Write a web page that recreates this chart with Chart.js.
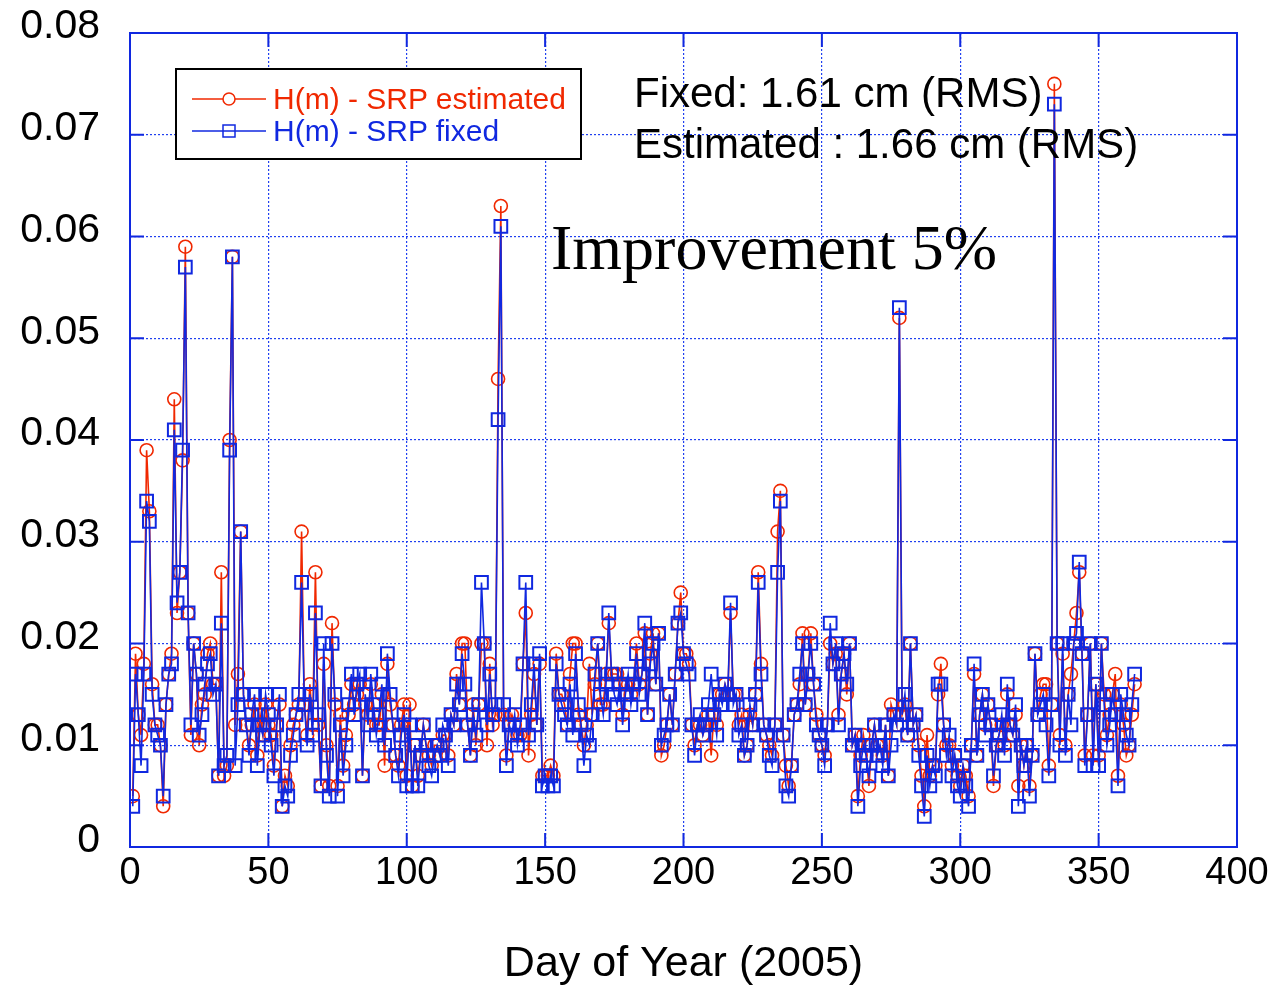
<!DOCTYPE html>
<html>
<head>
<meta charset="utf-8">
<title>H(m) - SRP</title>
<script src="https://cdn.jsdelivr.net/npm/chart.js@4.4.1/dist/chart.umd.min.js"></script>
<style>
  html, body { margin: 0; padding: 0; background: #fff; }
  #wrap { position: relative; width: 1287px; height: 990px; overflow: hidden; }
  #chart { position: absolute; left: 0; top: 0; }
  .txt { position: absolute; white-space: nowrap; line-height: 1; font-family: "Liberation Sans", Arial, sans-serif; }
  .leg { font-size: 30px; left: 273px; }
  .note { font-size: 42px; color: #000; left: 634px; }
  .big { font-family: "Liberation Serif", "Times New Roman", serif; font-size: 64px; color: #000; left: 551px; top: 216px; }
</style>
</head>
<body>
<div id="wrap">
  <canvas id="chart" width="1287" height="990"></canvas>
  <div class="txt leg" style="top:84px;color:#f02800">H(m) - SRP estimated</div>
  <div class="txt leg" style="top:116px;color:#1028e0">H(m) - SRP fixed</div>
  <div class="txt note" style="top:72px">Fixed: 1.61 cm (RMS)</div>
  <div class="txt note" style="top:123px">Estimated : 1.66 cm (RMS)</div>
  <div class="txt big">Improvement 5%</div>
</div>
<script>
// day of year of the first value
const firstDay = 1;

// H(m) with SRP fixed, one value per day (m)
const fixedVals = [
  0.004, 0.017, 0.013, 0.008, 0.017, 0.034, 0.032, 0.015, 0.012, 0.011,
  0.010, 0.005, 0.014, 0.017, 0.018, 0.041, 0.024, 0.027, 0.039, 0.057,
  0.023, 0.012, 0.020, 0.017, 0.011, 0.013, 0.016, 0.018, 0.019, 0.015,
  0.016, 0.007, 0.022, 0.008, 0.009, 0.039, 0.058, 0.008, 0.014, 0.031,
  0.015, 0.012, 0.009, 0.013, 0.015, 0.008, 0.012, 0.011, 0.015, 0.013,
  0.010, 0.007, 0.012, 0.015, 0.004, 0.006, 0.005, 0.009, 0.011, 0.013,
  0.015, 0.026, 0.014, 0.010, 0.015, 0.011, 0.023, 0.013, 0.006, 0.020,
  0.009, 0.005, 0.020, 0.015, 0.005, 0.012, 0.007, 0.010, 0.014, 0.017,
  0.013, 0.016, 0.017, 0.007, 0.015, 0.012, 0.017, 0.014, 0.011, 0.013,
  0.016, 0.010, 0.019, 0.015, 0.012, 0.009, 0.007, 0.011, 0.013, 0.006,
  0.012, 0.006, 0.010, 0.006, 0.009, 0.012, 0.010, 0.008, 0.007, 0.009,
  0.010, 0.009, 0.012, 0.011, 0.008, 0.013, 0.012, 0.016, 0.014, 0.019,
  0.016, 0.012, 0.009, 0.013, 0.011, 0.014, 0.026, 0.020, 0.012, 0.017,
  0.013, 0.014, 0.042, 0.061, 0.014, 0.008, 0.012, 0.011, 0.013, 0.010,
  0.012, 0.018, 0.026, 0.011, 0.014, 0.018, 0.012, 0.019, 0.006, 0.007,
  0.006, 0.007, 0.006, 0.018, 0.015, 0.014, 0.013, 0.012, 0.016, 0.011,
  0.019, 0.014, 0.012, 0.008, 0.011, 0.010, 0.013, 0.017, 0.020, 0.015,
  0.013, 0.016, 0.023, 0.017, 0.015, 0.014, 0.016, 0.012, 0.015, 0.017,
  0.014, 0.016, 0.019, 0.015, 0.017, 0.022, 0.013, 0.018, 0.020, 0.016,
  0.021, 0.010, 0.011, 0.012, 0.015, 0.012, 0.017, 0.022, 0.023, 0.019,
  0.018, 0.017, 0.012, 0.009, 0.012, 0.013, 0.011, 0.012, 0.014, 0.017,
  0.013, 0.011, 0.015, 0.014, 0.016, 0.015, 0.024, 0.014, 0.015, 0.011,
  0.012, 0.009, 0.010, 0.014, 0.012, 0.015, 0.026, 0.017, 0.012, 0.011,
  0.009, 0.008, 0.012, 0.027, 0.034, 0.011, 0.006, 0.005, 0.008, 0.013,
  0.014, 0.017, 0.020, 0.014, 0.017, 0.020, 0.016, 0.012, 0.011, 0.010,
  0.008, 0.012, 0.022, 0.018, 0.020, 0.012, 0.017, 0.019, 0.016, 0.020,
  0.010, 0.011, 0.004, 0.008, 0.010, 0.009, 0.007, 0.010, 0.012, 0.009,
  0.010, 0.008, 0.012, 0.007, 0.010, 0.013, 0.012, 0.053, 0.013, 0.015,
  0.011, 0.020, 0.012, 0.013, 0.009, 0.006, 0.003, 0.009, 0.006, 0.008,
  0.007, 0.016, 0.016, 0.012, 0.009, 0.011, 0.007, 0.009, 0.006, 0.005,
  0.008, 0.006, 0.004, 0.010, 0.018, 0.009, 0.013, 0.015, 0.011, 0.014,
  0.012, 0.007, 0.010, 0.011, 0.013, 0.009, 0.016, 0.012, 0.011, 0.014,
  0.004, 0.010, 0.008, 0.010, 0.005, 0.009, 0.019, 0.013, 0.014, 0.015,
  0.012, 0.007, 0.014, 0.073, 0.020, 0.010, 0.020, 0.009, 0.015, 0.012,
  0.020, 0.021, 0.028, 0.019, 0.008, 0.013, 0.020, 0.008, 0.016, 0.008,
  0.020, 0.014, 0.010, 0.012, 0.015, 0.013, 0.006, 0.015, 0.013, 0.011,
  0.010, 0.014, 0.017
];

// H(m) with SRP estimated (m)
const estVals = [
  0.005, 0.019, 0.013, 0.011, 0.018, 0.039, 0.033, 0.016, 0.012, 0.012,
  0.010, 0.004, 0.014, 0.017, 0.019, 0.044, 0.023, 0.027, 0.038, 0.059,
  0.023, 0.011, 0.020, 0.017, 0.010, 0.014, 0.015, 0.019, 0.020, 0.016,
  0.016, 0.007, 0.027, 0.007, 0.008, 0.040, 0.058, 0.012, 0.017, 0.031,
  0.015, 0.012, 0.010, 0.012, 0.014, 0.009, 0.013, 0.011, 0.014, 0.012,
  0.011, 0.008, 0.012, 0.014, 0.004, 0.007, 0.006, 0.010, 0.012, 0.013,
  0.014, 0.031, 0.014, 0.011, 0.016, 0.012, 0.027, 0.012, 0.006, 0.018,
  0.010, 0.006, 0.022, 0.014, 0.006, 0.013, 0.008, 0.011, 0.013, 0.016,
  0.014, 0.015, 0.016, 0.007, 0.014, 0.013, 0.016, 0.013, 0.012, 0.012,
  0.015, 0.008, 0.018, 0.014, 0.012, 0.009, 0.008, 0.012, 0.014, 0.007,
  0.014, 0.006, 0.010, 0.007, 0.009, 0.012, 0.010, 0.009, 0.008, 0.010,
  0.010, 0.009, 0.011, 0.011, 0.009, 0.013, 0.012, 0.017, 0.014, 0.020,
  0.020, 0.012, 0.009, 0.014, 0.010, 0.014, 0.020, 0.020, 0.010, 0.018,
  0.012, 0.013, 0.046, 0.063, 0.013, 0.009, 0.012, 0.013, 0.012, 0.011,
  0.011, 0.018, 0.023, 0.009, 0.013, 0.017, 0.012, 0.018, 0.007, 0.007,
  0.007, 0.008, 0.007, 0.019, 0.015, 0.015, 0.014, 0.012, 0.017, 0.020,
  0.020, 0.013, 0.012, 0.010, 0.012, 0.018, 0.013, 0.016, 0.020, 0.014,
  0.014, 0.017, 0.022, 0.017, 0.017, 0.017, 0.016, 0.013, 0.016, 0.016,
  0.015, 0.016, 0.020, 0.016, 0.017, 0.021, 0.013, 0.019, 0.021, 0.016,
  0.021, 0.009, 0.010, 0.012, 0.015, 0.012, 0.017, 0.022, 0.025, 0.019,
  0.019, 0.018, 0.012, 0.010, 0.012, 0.012, 0.011, 0.012, 0.013, 0.009,
  0.013, 0.012, 0.015, 0.015, 0.016, 0.015, 0.023, 0.015, 0.015, 0.012,
  0.013, 0.009, 0.010, 0.013, 0.012, 0.015, 0.027, 0.018, 0.012, 0.011,
  0.010, 0.009, 0.012, 0.031, 0.035, 0.011, 0.008, 0.006, 0.008, 0.013,
  0.014, 0.016, 0.021, 0.014, 0.017, 0.021, 0.016, 0.013, 0.011, 0.010,
  0.009, 0.012, 0.020, 0.018, 0.019, 0.013, 0.017, 0.019, 0.015, 0.020,
  0.010, 0.011, 0.005, 0.009, 0.011, 0.009, 0.006, 0.010, 0.012, 0.010,
  0.010, 0.009, 0.012, 0.007, 0.014, 0.013, 0.012, 0.052, 0.013, 0.014,
  0.011, 0.020, 0.012, 0.013, 0.010, 0.007, 0.004, 0.011, 0.007, 0.008,
  0.008, 0.015, 0.018, 0.012, 0.010, 0.010, 0.008, 0.009, 0.007, 0.006,
  0.008, 0.007, 0.005, 0.010, 0.017, 0.009, 0.013, 0.015, 0.012, 0.014,
  0.012, 0.006, 0.010, 0.011, 0.012, 0.010, 0.015, 0.012, 0.011, 0.013,
  0.006, 0.010, 0.008, 0.010, 0.006, 0.009, 0.019, 0.013, 0.015, 0.016,
  0.016, 0.008, 0.014, 0.075, 0.020, 0.011, 0.019, 0.010, 0.015, 0.017,
  0.020, 0.023, 0.027, 0.019, 0.009, 0.013, 0.020, 0.009, 0.016, 0.009,
  0.020, 0.015, 0.011, 0.013, 0.015, 0.017, 0.007, 0.014, 0.012, 0.009,
  0.010, 0.013, 0.016
];

const xTicksStep = 50;
const yTicksStep = 0.01;

const red = '#f02800';
const blue = '#1028e0';
const gridBlue = '#2040f0';
const fontFam = '"Liberation Sans", Arial, sans-serif';

function toPoints(vals) {
  return vals.map((v, i) => ({ x: firstDay + i, y: v }));
}

// box round the plot, inward ticks and the legend box
const framePlugin = {
  id: 'frame',
  afterDatasetsDraw(chart) {
    const { ctx, chartArea: a, scales: { x, y } } = chart;
    ctx.save();
    ctx.strokeStyle = blue;
    ctx.lineWidth = 2;
    ctx.strokeRect(a.left, a.top, a.right - a.left, a.bottom - a.top);
    ctx.beginPath();
    x.ticks.forEach(t => {
      const px = x.getPixelForValue(t.value);
      ctx.moveTo(px, a.bottom); ctx.lineTo(px, a.bottom - 14);
      ctx.moveTo(px, a.top); ctx.lineTo(px, a.top + 14);
    });
    y.ticks.forEach(t => {
      const py = y.getPixelForValue(t.value);
      ctx.moveTo(a.left, py); ctx.lineTo(a.left + 14, py);
      ctx.moveTo(a.right, py); ctx.lineTo(a.right - 14, py);
    });
    ctx.stroke();

    // legend
    ctx.fillStyle = '#fff';
    ctx.fillRect(176, 69, 405, 90);
    ctx.strokeStyle = '#000';
    ctx.lineWidth = 2;
    ctx.strokeRect(176, 69, 405, 90);

    ctx.lineWidth = 1.5;
    ctx.strokeStyle = red;
    ctx.beginPath();
    ctx.moveTo(192, 99); ctx.lineTo(266, 99);
    ctx.stroke();
    ctx.fillStyle = '#fff';
    ctx.beginPath();
    ctx.arc(229, 99, 6, 0, Math.PI * 2);
    ctx.fill();
    ctx.stroke();

    ctx.strokeStyle = blue;
    ctx.beginPath();
    ctx.moveTo(192, 131); ctx.lineTo(266, 131);
    ctx.stroke();
    ctx.strokeRect(223, 125, 12, 12);
    ctx.restore();
  }
};

new Chart(document.getElementById('chart'), {
  type: 'line',
  data: {
    datasets: [
      {
        label: 'H(m) - SRP fixed',
        data: toPoints(fixedVals),
        borderColor: blue,
        borderWidth: 1.6,
        pointStyle: 'rect',
        pointRadius: 9,
        pointBorderWidth: 2,
        pointBorderColor: blue,
        pointBackgroundColor: 'rgba(0,0,0,0)',
        order: 1
      },
      {
        label: 'H(m) - SRP estimated',
        data: toPoints(estVals),
        borderColor: red,
        borderWidth: 1.6,
        pointStyle: 'circle',
        pointRadius: 6.5,
        pointBorderWidth: 1.6,
        pointBorderColor: red,
        pointBackgroundColor: 'rgba(0,0,0,0)',
        order: 2
      }
    ]
  },
  options: {
    responsive: false,
    animation: false,
    devicePixelRatio: 1,
    layout: { padding: { left: 0, top: 33, right: 50, bottom: 0 } },
    plugins: {
      legend: { display: false },
      tooltip: { enabled: false }
    },
    scales: {
      x: {
        type: 'linear',
        min: 0,
        max: 400,
        ticks: {
          stepSize: xTicksStep,
          color: '#000',
          font: { family: fontFam, size: 38 },
          padding: 0,
          maxRotation: 0
        },
        grid: {
          color: gridBlue,
          lineWidth: 1.2,
          drawTicks: true,
          tickLength: 4,
          tickColor: 'rgba(0,0,0,0)'
        },
        border: { display: false, dash: [2, 2] },
        title: {
          display: true,
          text: 'Day of Year (2005)',
          color: '#000',
          font: { family: fontFam, size: 43 },
          padding: { top: 0, bottom: 0 }
        },
        afterFit(scale) { scale.height = 143; }
      },
      y: {
        min: 0,
        max: 0.08,
        ticks: {
          stepSize: yTicksStep,
          color: '#000',
          font: { family: fontFam, size: 41 },
          padding: 0,
          labelOffset: -6,
          callback: v => (v === 0 ? '0' : v.toFixed(2))
        },
        grid: {
          color: gridBlue,
          lineWidth: 1.2,
          drawTicks: true,
          tickLength: 30,
          tickColor: 'rgba(0,0,0,0)'
        },
        border: { display: false, dash: [2, 2] },
        afterFit(scale) { scale.width = 130; }
      }
    }
  },
  plugins: [framePlugin]
});
</script>
</body>
</html>
